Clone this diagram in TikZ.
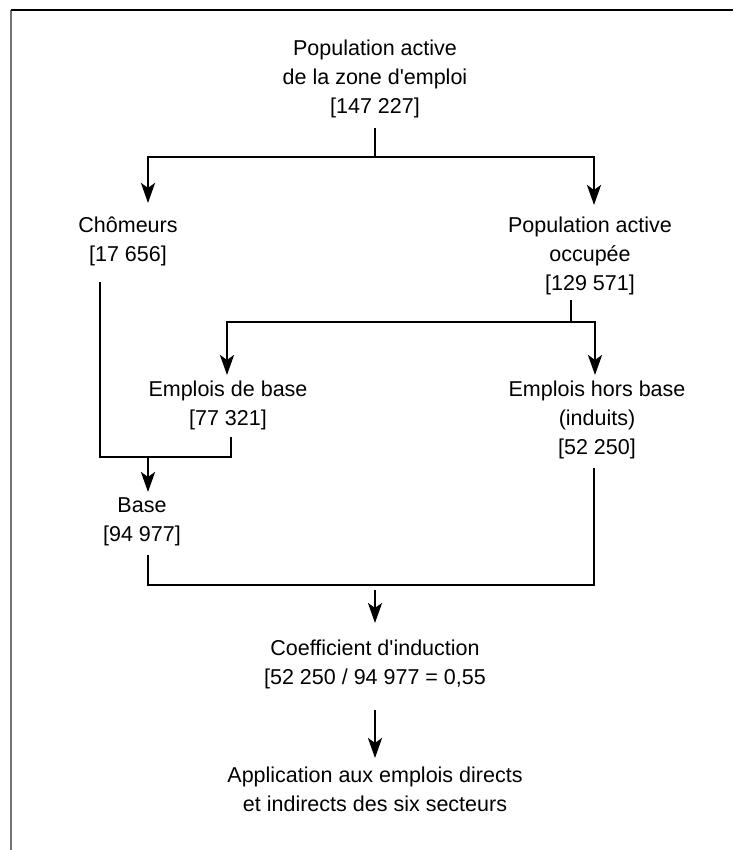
\documentclass[tikz,border=0pt]{standalone}
\usepackage{fontspec}
\setmainfont{Liberation Sans}
\usetikzlibrary{arrows.meta}
\begin{document}
\begin{tikzpicture}[x=1pt,y=-1pt,
  lbl/.style={align=center, inner sep=0pt, anchor=north, font=\fontsize{21.5}{29}\selectfont},
  conn/.style={line width=2.8pt},
  arr/.style={line width=2.8pt, -{Stealth[length=20pt,width=14pt,inset=5pt]}}]
\useasboundingbox (0,0) rectangle (733,850);
% frame
\coordinate (f1) at (11,850);
\coordinate (f2) at (11,10);
\coordinate (f3) at (733,10);
\draw[black!55, line width=1.2pt] (f1) -- (f2);
\draw[line width=1.6pt] (f2) -- (f3);
% labels (top of first line = baseline - 15.5)
\node[lbl] (pop)  at (375,39.5) {Population active\\de la zone d\textquotesingle emploi\\{[147 227]}};
\node[lbl] (chom) at (128,216.5) {Chômeurs\\{[17 656]}};
\node[lbl] (occ)  at (590,216.5) {Population active\\occupée\\{[129 571]}};
\node[lbl] (edb)  at (228,380.5) {Emplois de base\\{[77 321]}};
\node[lbl] (ehb)  at (597,380.5) {Emplois hors base\\(induits)\\{[52 250]}};
\node[lbl] (base) at (142,497.5) {Base\\{[94 977]}};
\node[lbl] (coef) at (375,639.5) {Coefficient d\textquotesingle induction\\{[52 250 / 94 977 = 0,55}};
\node[lbl] (app)  at (375,766.5) {Application aux emplois directs\\et indirects des six secteurs};
% junction coordinates
\coordinate (t0) at (375,128);
\coordinate (t1) at (375,157);
\coordinate (tl) at (148,157);
\coordinate (tr) at (594,157);
\coordinate (tla) at (148,203);
\coordinate (tra) at (594,205);
\coordinate (o0) at (571,300);
\coordinate (o1) at (571,322);
\coordinate (ol) at (227,322);
\coordinate (or) at (595,322);
\coordinate (ola) at (227,375);
\coordinate (ora) at (595,375);
\coordinate (c0) at (100,282);
\coordinate (c1) at (100,457);
\coordinate (e0) at (231,437);
\coordinate (e1) at (231,457);
\coordinate (b0) at (148,457);
\coordinate (ba) at (148,492);
\coordinate (s0) at (148,555);
\coordinate (s1) at (148,585);
\coordinate (h0) at (594,468);
\coordinate (h1) at (594,585);
\coordinate (k0) at (375,590);
\coordinate (ka) at (375,623);
\coordinate (m0) at (375,710);
\coordinate (ma) at (375,758);
% connectors
\draw[conn] (t0) -- (t1);
\draw[arr] (t1) -- (tl) -- (tla);
\draw[arr] (t1) -- (tr) -- (tra);
\draw[conn] (o0) -- (o1);
\draw[arr] (o1) -- (ol) -- (ola);
\draw[arr] (o1) -- (or) -- (ora);
\draw[conn] (c0) -- (c1) -- (e1) -- (e0);
\draw[arr] (b0) -- (ba);
\draw[conn] (s0) -- (s1) -- (h1) -- (h0);
\draw[arr] (k0) -- (ka);
\draw[arr] (m0) -- (ma);
\end{tikzpicture}
\end{document}
